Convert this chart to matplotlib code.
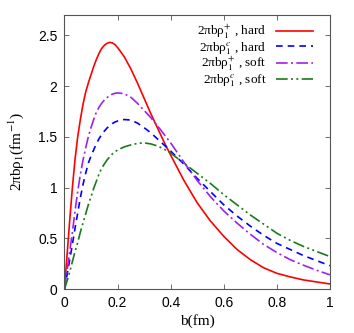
import matplotlib
matplotlib.use("Agg")
import matplotlib.pyplot as plt

b = [0, 0.005, 0.01, 0.02, 0.03, 0.04, 0.05, 0.06, 0.07, 0.08, 0.09, 0.1, 0.11, 0.12, 0.13,
     0.14, 0.15, 0.16, 0.17, 0.18, 0.19, 0.2, 0.225, 0.25, 0.275, 0.3, 0.325, 0.35, 0.375,
     0.4, 0.45, 0.5, 0.55, 0.6, 0.65, 0.7, 0.75, 0.8, 0.85, 0.9, 0.95, 1.0]

hard_plus = [0, 0.17, 0.34, 0.68, 1.0, 1.28, 1.5, 1.67, 1.82, 1.94, 2.03, 2.11, 2.19, 2.26, 2.32,
             2.37, 2.40, 2.42, 2.43, 2.425, 2.41, 2.38, 2.29, 2.17, 2.03, 1.88, 1.73, 1.59, 1.45,
             1.32, 1.07, 0.85, 0.67, 0.52, 0.39, 0.29, 0.21, 0.155, 0.12, 0.09, 0.07, 0.05]
hard_c = [0, 0.07, 0.14, 0.29, 0.44, 0.6, 0.75, 0.9, 1.03, 1.14, 1.24, 1.31, 1.37, 1.43, 1.48,
          1.52, 1.555, 1.585, 1.61, 1.63, 1.645, 1.655, 1.67, 1.665, 1.635, 1.59, 1.54, 1.48, 1.42,
          1.36, 1.23, 1.09, 0.96, 0.83, 0.72, 0.62, 0.53, 0.45, 0.39, 0.33, 0.28, 0.23]
soft_plus = [0, 0.09, 0.18, 0.37, 0.56, 0.77, 0.96, 1.13, 1.27, 1.39, 1.50, 1.59, 1.67, 1.74, 1.79,
             1.83, 1.86, 1.885, 1.905, 1.92, 1.928, 1.932, 1.925, 1.89, 1.83, 1.76, 1.69, 1.61, 1.525,
             1.44, 1.25, 1.07, 0.91, 0.77, 0.65, 0.54, 0.44, 0.36, 0.29, 0.235, 0.185, 0.14]
soft_c = [0, 0.04, 0.08, 0.17, 0.27, 0.37, 0.46, 0.56, 0.65, 0.74, 0.83, 0.91, 0.99, 1.06, 1.13,
          1.19, 1.23, 1.27, 1.30, 1.33, 1.35, 1.37, 1.40, 1.42, 1.435, 1.44, 1.43, 1.41, 1.38,
          1.34, 1.24, 1.14, 1.04, 0.93, 0.83, 0.73, 0.64, 0.55, 0.48, 0.42, 0.37, 0.32]

labels = [r"2πbρ$^{+}_{1}$ , hard", r"2πbρ$^{c}_{1}$ , hard",
          r"2πbρ$^{+}_{1}$ , soft", r"2πbρ$^{c}_{1}$ , soft"]
xticks = [0, 0.2, 0.4, 0.6, 0.8, 1]
xticklabels = ["0", "0.2", "0.4", "0.6", "0.8", "1"]
yticks = [0, 0.5, 1, 1.5, 2, 2.5]
yticklabels = ["0", "0.5", "1", "1.5", "2", "2.5"]

plt.rcParams['mathtext.fontset'] = 'stix'
serif = ['Liberation Serif', 'DejaVu Serif']
sans = ['Liberation Sans', 'DejaVu Sans']

fig = plt.figure(figsize=(3.54, 3.33), dpi=100)
ax = fig.add_axes([0.182, 0.132, 0.75, 0.823])

ax.plot(b, hard_plus, color='#ff0000', lw=1.2, ls='-', label=labels[0])
ax.plot(b, hard_c, color='#0000ff', lw=1.2, ls=(0, (4, 3)), label=labels[1])
ax.plot(b, soft_plus, color='#a020f0', lw=1.2, ls=(0, (7, 2, 1.2, 2)), label=labels[2])
ax.plot(b, soft_c, color='#1a7a1a', lw=1.2, ls=(0, (7, 2, 1.2, 2, 1.2, 2)), label=labels[3])

ax.set_xlim(0, 1)
ax.set_ylim(0, 2.7)
ax.set_xticks(xticks)
ax.set_xticklabels(xticklabels, family=sans, fontsize=10)
ax.set_yticks(yticks)
ax.set_yticklabels(yticklabels, family=sans, fontsize=10)
ax.tick_params(direction='in', top=True, right=True, length=3.5, width=0.6, color='#555555', pad=5)
for s in ax.spines.values():
    s.set_color('#555555')
    s.set_linewidth(0.8)

ax.set_xlabel("b(fm)", family=serif, fontsize=11, labelpad=3)
ax.set_ylabel(r"2πbρ$_{1}$(fm$^{-1}$)", family=serif, fontsize=11, labelpad=9)

leg = ax.legend(loc='upper right', bbox_to_anchor=(0.955, 0.99), frameon=False, markerfirst=False,
                prop={'family': serif, 'size': 9.5}, handlelength=2.8,
                labelspacing=-0.1, borderaxespad=0.0, handletextpad=0.7)

fig.savefig("out.png", dpi=100)
